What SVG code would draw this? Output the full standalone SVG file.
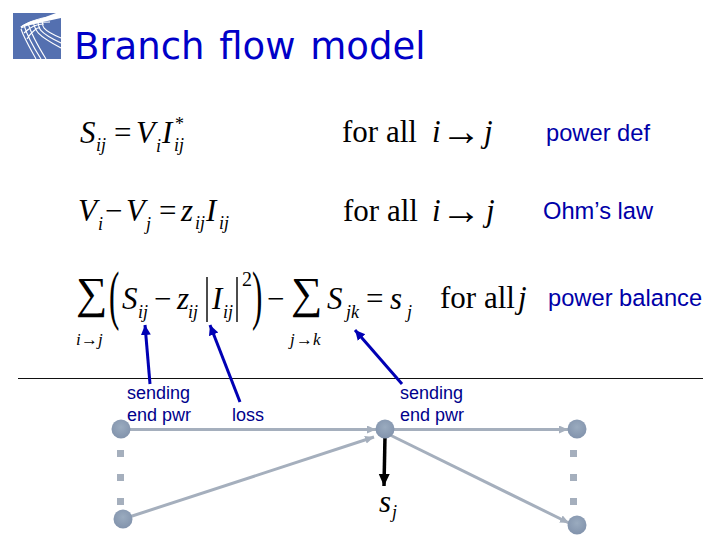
<svg xmlns="http://www.w3.org/2000/svg" width="720" height="540" viewBox="0 0 720 540">
<style>
.m{font-family:"Liberation Serif",serif;font-size:31px;fill:#000}
.i{font-style:italic}
.s{font-size:18px}
.f{font-size:31px}
.a{font-size:40px}
.u{font-size:44px}
.t{font-size:17px}
.l{font-family:"Liberation Sans",Arial,sans-serif;font-size:18px;fill:#00008c}
.r{font-family:"Liberation Sans",Arial,sans-serif;font-size:23.7px;fill:#0000a8}
.e{stroke:#a5afbd;stroke-width:3;fill:none}
.b{stroke:#0000b4;stroke-width:3;fill:none;marker-end:url(#ab)}
.n{fill:url(#ng)}
.d{fill:#a5afbd}
.w{stroke:#fff;fill:none;stroke-width:1.1}
</style>
<defs>
<radialGradient id="ng" cx="50%" cy="40%" r="60%"><stop offset="0" stop-color="#9aabbf"/><stop offset="1" stop-color="#8293ac"/></radialGradient>
<marker id="ag" markerUnits="userSpaceOnUse" markerWidth="10" markerHeight="10" refX="9" refY="4" orient="auto"><path d="M0 0L9 4L0 8z" fill="#a5afbd"/></marker>
<marker id="ab" markerUnits="userSpaceOnUse" markerWidth="12" markerHeight="12" refX="10" refY="5" orient="auto"><path d="M0 0L10 5L0 10z" fill="#0000b4"/></marker>
<marker id="ak" markerUnits="userSpaceOnUse" markerWidth="14" markerHeight="14" refX="12" refY="5.5" orient="auto"><path d="M0 0L12 5.5L0 11z" fill="#000"/></marker>
</defs>
<rect width="720" height="540" fill="#fff"/>
<g id="logo">
<path d="M13 13H56L40 19C30 21 24 24 20 27L61 18V59H13z" fill="#5470b0"/>
<path class="w" d="M21 27C30 20 44 17 60 16M21 29C24 38 30 48 36 59M24 25C27 36 34 48 41 59M28 23C31 34 38 46 46 59M33 21C35 30 35 34 61 48M38 20C38 28 38 32 61 43M43 19C41 26 42 30 61 38M21 28C30 23 42 22 50 22M24 33C30 27 38 24 44 24M27 39C31 32 37 28 40 27"/>
</g>
<text id="title" x="74" y="59" font-family="'DejaVu Sans',Verdana,sans-serif" font-size="37" fill="#0000c8" word-spacing="3">Branch flow model</text>

<g id="eq1">
<text class="m i" x="80" y="143">S</text><text class="m i s" x="96" y="151">ij</text>
<text class="m" x="114" y="143">=</text>
<text class="m i" x="136" y="143">V</text><text class="m i s" x="156" y="152">i</text>
<text class="m i" x="162" y="143">I</text><text class="m i s" x="174" y="151">ij</text>
<text class="m s" x="175" y="130">*</text>
<text class="m f" x="342" y="142">for all</text>
<text class="m i" x="432" y="142">i</text><text class="m a" x="441" y="145">→</text><text class="m i" x="484" y="142">j</text>
</g>
<g id="eq2">
<text class="m i" x="78" y="221">V</text><text class="m i s" x="98" y="230">i</text>
<text class="m" x="105" y="221">−</text>
<text class="m i" x="126" y="221">V</text><text class="m i s" x="146" y="230">j</text>
<text class="m" x="159" y="221">=</text>
<text class="m i" x="181" y="221">z</text><text class="m i s" x="195" y="229">ij</text>
<text class="m i" x="206" y="221">I</text><text class="m i s" x="219" y="229">ij</text>
<text class="m f" x="343" y="221">for all</text>
<text class="m i" x="432" y="221">i</text><text class="m a" x="441" y="224">→</text><text class="m i" x="486" y="221">j</text>
</g>
<g id="eq3">
<text class="m u" x="76" y="308">∑</text>
<text class="m i t" x="76" y="345">i</text><text class="m t" x="81" y="345">→</text><text class="m i t" x="98" y="345">j</text>
<text class="m" transform="translate(109 317) scale(1 2.1)">(</text>
<text class="m i" x="122" y="309">S</text><text class="m i s" x="138" y="318">ij</text>
<text class="m" x="154" y="309">−</text>
<text class="m i" x="177" y="309">z</text><text class="m i s" x="188" y="318">ij</text>
<line x1="207" y1="277" x2="207" y2="322" stroke="#111" stroke-width="1.5"/>
<text class="m i" x="212" y="309">I</text><text class="m i s" x="223" y="318">ij</text>
<line x1="237" y1="277" x2="237" y2="322" stroke="#111" stroke-width="1.5"/>
<text class="m" x="242" y="286" style="font-size:20px">2</text>
<text class="m" transform="translate(252 317) scale(1 2.1)">)</text>
<text class="m" x="267" y="309">−</text>
<text class="m u" x="291" y="308">∑</text>
<text class="m i t" x="290" y="345">j</text><text class="m t" x="296" y="345">→</text><text class="m i t" x="313" y="345">k</text>
<text class="m i" x="327" y="309">S</text><text class="m i s" x="346" y="318">jk</text>
<text class="m" x="366" y="309">=</text>
<text class="m i" x="390" y="309">s</text><text class="m i s" x="407" y="318">j</text>
<text class="m f" x="440" y="308">for all</text><text class="m i" x="518" y="308">j</text>
</g>
<g id="labels">
<text class="r" x="546" y="141">power def</text>
<text class="r" x="543" y="219">Ohm’s law</text>
<text class="r" x="548" y="306">power balance</text>
<text class="l" x="127" y="399">sending</text><text class="l" x="127" y="421">end pwr</text>
<text class="l" x="232" y="421">loss</text>
<text class="l" x="400" y="399">sending</text><text class="l" x="400" y="421">end pwr</text>
<text class="m i" x="379" y="512">s</text><text class="m i s" x="392" y="518">j</text>
</g>
<line id="rule" x1="18" y1="378.5" x2="703" y2="378.5" stroke="#111" stroke-width="1"/>
<g id="connectors">
<line class="e" x1="121" y1="429.5" x2="376" y2="429.5" marker-end="url(#ag)"/>
<line class="e" x1="123" y1="519" x2="374" y2="437" marker-end="url(#ag)"/>
<line class="e" x1="385" y1="429.5" x2="568" y2="429.5" marker-end="url(#ag)"/>
<line class="e" x1="388" y1="434" x2="569" y2="523" marker-end="url(#ag)"/>
<line x1="385" y1="436" x2="384" y2="486" stroke="#000" stroke-width="3.5" marker-end="url(#ak)"/>
<line class="b" x1="150" y1="384" x2="145" y2="325"/>
<line class="b" x1="240" y1="402" x2="210" y2="325"/>
<line class="b" x1="402" y1="384" x2="355" y2="330"/>
</g>
<g id="node-a"><circle class="n" cx="121" cy="429" r="9.5"/></g>
<g id="node-b"><circle class="n" cx="123" cy="519" r="9.5"/></g>
<g id="node-c"><circle class="n" cx="385" cy="429" r="9.5"/></g>
<g id="node-d"><circle class="n" cx="577" cy="429" r="9.5"/></g>
<g id="node-e"><circle class="n" cx="577" cy="525" r="9.5"/></g>
<g id="dots-left"><rect class="d" x="117" y="450" width="7" height="7"/><rect class="d" x="117" y="474" width="7" height="7"/><rect class="d" x="117" y="498" width="7" height="7"/></g>
<g id="dots-right"><rect class="d" x="570" y="450" width="7" height="7"/><rect class="d" x="570" y="474" width="7" height="7"/><rect class="d" x="570" y="498" width="7" height="7"/></g>
</svg>
